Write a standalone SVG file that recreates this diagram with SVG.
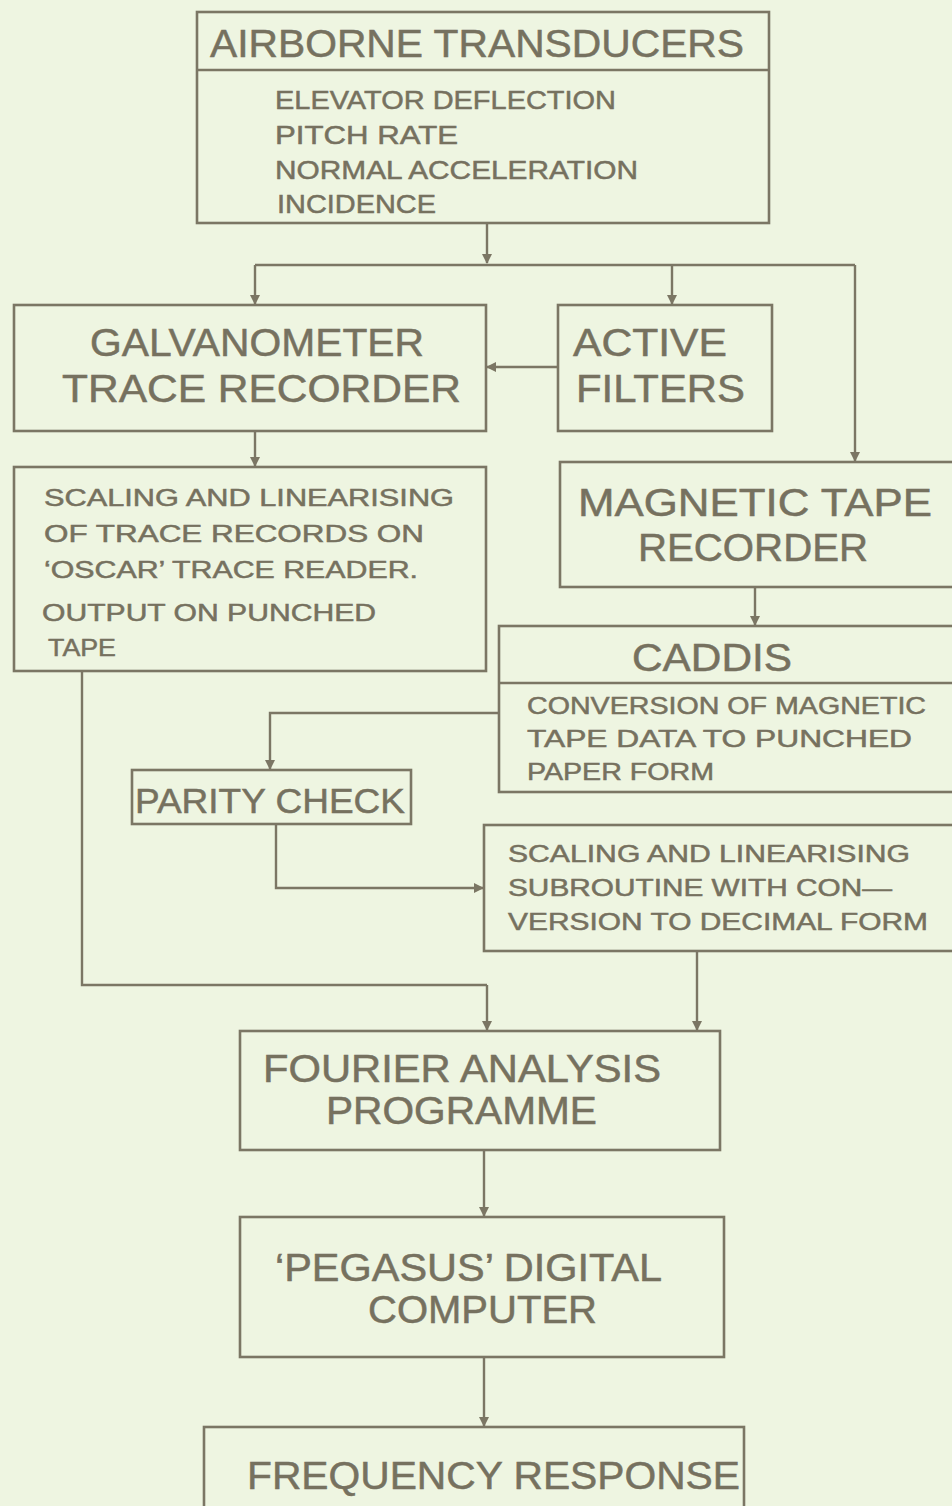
<svg xmlns="http://www.w3.org/2000/svg" width="952" height="1506" viewBox="0 0 952 1506">
<style>
.bx{fill:none;stroke:#7b7664;stroke-width:2.6}
.ln{fill:none;stroke:#7b7664;stroke-width:2.4}
.ar{fill:none;stroke:#7b7664;stroke-width:2.4;marker-end:url(#ah)}
text{font-family:"Liberation Sans",Arial,sans-serif;fill:#76715f;stroke:#76715f;stroke-width:0.5}
.big{font-size:38px}
.mid{font-size:26px}
.sm{font-size:24px}
</style>
<defs>
<marker id="ah" markerWidth="10" markerHeight="12" refX="9" refY="6" orient="auto" markerUnits="userSpaceOnUse">
<path d="M0,1 L10,6 L0,11 Z" fill="#7b7664"/>
</marker>
</defs>
<rect width="952" height="1506" fill="#eef5e1"/>
<g id="connectors">
<path class="ar" d="M487,223 V263"/>
<path class="ln" d="M255,265 H855"/>
<path class="ar" d="M255,265 V304"/>
<path class="ar" d="M672,265 V304"/>
<path class="ar" d="M855,265 V461"/>
<path class="ar" d="M558,367 H487"/>
<path class="ar" d="M255,431 V466"/>
<path class="ar" d="M755,587 V625"/>
<path class="ar" d="M499,713 H270 V769"/>
<path class="ar" d="M276,824 V888 H483"/>
<path class="ln" d="M82,671 V985 H487"/>
<path class="ar" d="M487,985 V1030"/>
<path class="ar" d="M697,951 V1030"/>
<path class="ar" d="M484,1150 V1216"/>
<path class="ar" d="M484,1357 V1426"/>
</g>
<g id="airborne">
<rect class="bx" x="197" y="12" width="572" height="211"/>
<line class="bx" x1="197" y1="70" x2="769" y2="70"/>
<text class="big" x="210" y="57" textLength="534" lengthAdjust="spacingAndGlyphs">AIRBORNE TRANSDUCERS</text>
<text class="mid" x="275" y="109" textLength="341" lengthAdjust="spacingAndGlyphs">ELEVATOR DEFLECTION</text>
<text class="mid" x="275" y="144" textLength="183" lengthAdjust="spacingAndGlyphs">PITCH RATE</text>
<text class="mid" x="275" y="179" textLength="363" lengthAdjust="spacingAndGlyphs">NORMAL ACCELERATION</text>
<text class="mid" x="277" y="213" textLength="159" lengthAdjust="spacingAndGlyphs">INCIDENCE</text>
</g>
<g id="galvanometer">
<rect class="bx" x="14" y="305" width="472" height="126"/>
<text class="big" x="90" y="356" textLength="334" lengthAdjust="spacingAndGlyphs">GALVANOMETER</text>
<text class="big" x="62" y="402" textLength="399" lengthAdjust="spacingAndGlyphs">TRACE RECORDER</text>
</g>
<g id="active-filters">
<rect class="bx" x="558" y="305" width="214" height="126"/>
<text class="big" x="573" y="356" textLength="154" lengthAdjust="spacingAndGlyphs">ACTIVE</text>
<text class="big" x="576" y="402" textLength="169" lengthAdjust="spacingAndGlyphs">FILTERS</text>
</g>
<g id="oscar">
<rect class="bx" x="14" y="467" width="472" height="204"/>
<text class="sm" x="44" y="506" textLength="410" lengthAdjust="spacingAndGlyphs">SCALING AND LINEARISING</text>
<text class="sm" x="44" y="542" textLength="380" lengthAdjust="spacingAndGlyphs">OF TRACE RECORDS ON</text>
<text class="sm" x="44" y="578" textLength="374" lengthAdjust="spacingAndGlyphs">‘OSCAR’ TRACE READER.</text>
<text class="sm" x="42" y="621" textLength="334" lengthAdjust="spacingAndGlyphs">OUTPUT ON PUNCHED</text>
<text class="sm" x="48" y="656" textLength="68" lengthAdjust="spacingAndGlyphs">TAPE</text>
</g>
<g id="magnetic-tape">
<rect class="bx" x="560" y="462" width="400" height="125"/>
<text class="big" x="578" y="516" textLength="354" lengthAdjust="spacingAndGlyphs">MAGNETIC TAPE</text>
<text class="big" x="638" y="561" textLength="230" lengthAdjust="spacingAndGlyphs">RECORDER</text>
</g>
<g id="caddis">
<rect class="bx" x="499" y="626" width="461" height="166"/>
<line class="bx" x1="499" y1="683" x2="960" y2="683"/>
<text class="big" x="632" y="671" textLength="160" lengthAdjust="spacingAndGlyphs">CADDIS</text>
<text class="sm" x="527" y="714" textLength="399" lengthAdjust="spacingAndGlyphs">CONVERSION OF MAGNETIC</text>
<text class="sm" x="527" y="747" textLength="385" lengthAdjust="spacingAndGlyphs">TAPE DATA TO PUNCHED</text>
<text class="sm" x="527" y="780" textLength="187" lengthAdjust="spacingAndGlyphs">PAPER FORM</text>
</g>
<g id="parity-check">
<rect class="bx" x="132" y="770" width="279" height="54"/>
<text x="135" y="813" font-size="35" textLength="270" lengthAdjust="spacingAndGlyphs">PARITY CHECK</text>
</g>
<g id="subroutine">
<rect class="bx" x="484" y="825" width="476" height="126"/>
<text class="sm" x="508" y="862" textLength="402" lengthAdjust="spacingAndGlyphs">SCALING AND LINEARISING</text>
<text class="sm" x="508" y="896" textLength="384" lengthAdjust="spacingAndGlyphs">SUBROUTINE WITH CON—</text>
<text class="sm" x="508" y="930" textLength="420" lengthAdjust="spacingAndGlyphs">VERSION TO DECIMAL FORM</text>
</g>
<g id="fourier">
<rect class="bx" x="240" y="1031" width="480" height="119"/>
<text class="big" x="263" y="1082" textLength="398" lengthAdjust="spacingAndGlyphs">FOURIER ANALYSIS</text>
<text class="big" x="326" y="1124" textLength="271" lengthAdjust="spacingAndGlyphs">PROGRAMME</text>
</g>
<g id="pegasus">
<rect class="bx" x="240" y="1217" width="484" height="140"/>
<text class="big" x="275" y="1281" textLength="387" lengthAdjust="spacingAndGlyphs">‘PEGASUS’ DIGITAL</text>
<text class="big" x="368" y="1323" textLength="229" lengthAdjust="spacingAndGlyphs">COMPUTER</text>
</g>
<g id="frequency-response">
<rect class="bx" x="204" y="1427" width="540" height="100"/>
<text class="big" x="247" y="1489" textLength="493" lengthAdjust="spacingAndGlyphs">FREQUENCY RESPONSE</text>
</g>
</svg>
